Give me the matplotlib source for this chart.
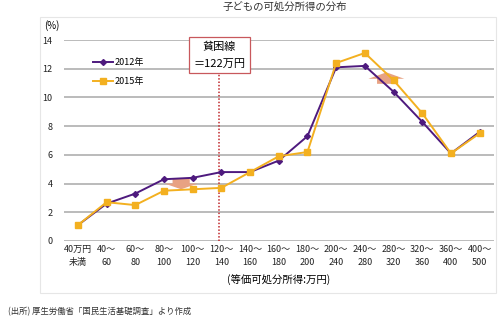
import matplotlib
matplotlib.use("Agg")
import matplotlib.pyplot as plt
import matplotlib.patches as mpatches
import numpy as np

plt.rcParams['font.family'] = ['Noto Sans CJK JP', 'DejaVu Sans']

# income brackets (equivalent disposable income, 10k yen)
brackets = ["40万円\n未満", "40～\n60", "60～\n80", "80～\n100", "100～\n120", "120～\n140",
            "140～\n160", "160～\n180", "180～\n200", "200～\n240", "240～\n280",
            "280～\n320", "320～\n360", "360～\n400", "400～\n500"]
share_2012 = [1.1, 2.6, 3.3, 4.3, 4.4, 4.8, 4.8, 5.6, 7.3, 12.1, 12.2, 10.4, 8.3, 6.1, 7.6]
share_2015 = [1.1, 2.7, 2.5, 3.5, 3.6, 3.7, 4.8, 5.9, 6.2, 12.4, 13.1, 11.2, 8.9, 6.1, 7.5]
poverty_line_pos = 4.93

c2012 = '#4E1A7E'
c2015 = '#F3B020'
arrow_c = '#E8A283'

fig = plt.figure(figsize=(5.0, 3.23), dpi=100)
fig.patches.append(mpatches.Rectangle((40 / 500, 1 - 293 / 323), 456 / 500, 276 / 323,
                                      transform=fig.transFigure, fill=False,
                                      edgecolor='#E6E6E6', linewidth=0.8))
ax = fig.add_axes([0.127, 0.254, 0.861, 0.622])

x = np.arange(len(brackets))
ax.set_yticks(np.arange(0, 15, 2))
ax.yaxis.grid(True, color='#A8A8A8', linewidth=1.1)
ax.set_axisbelow(True)
for s in ax.spines.values():
    s.set_visible(False)

ax.plot(x, share_2012, color=c2012, linewidth=1.4, marker='D', markersize=3,
        label='2012年', zorder=3)
ax.plot(x, share_2015, color=c2015, linewidth=1.4, marker='s', markersize=4.5,
        label='2015年', zorder=3)

ax.set_xlim(-0.5, len(brackets) - 0.5)
ax.set_ylim(0, 14)
ax.set_xticks(x)
ax.set_xticklabels(brackets, fontsize=6.5, linespacing=1.5)
ax.tick_params(axis='both', length=0, labelsize=6.5, colors='#222222')
ax.tick_params(axis='x', pad=3)
ax.tick_params(axis='y', pad=8)

# poverty line marker
ax.plot([poverty_line_pos, poverty_line_pos], [0, 11.7], color='#C0282C',
        linestyle=(0, (1, 1.2)), linewidth=1.1, zorder=2)
ax.text(poverty_line_pos, 12.95, '貧困線\n＝122万円', ha='center', va='center',
        fontsize=8, linespacing=1.8, zorder=4,
        bbox=dict(boxstyle='square,pad=0.4', facecolor='white',
                  edgecolor='#C8585C', linewidth=0.9))

# shift arrows
ax.add_patch(mpatches.FancyArrow(3.6, 4.35, 0, -0.75, width=0.6, head_width=1.15,
                                 head_length=0.4, length_includes_head=True,
                                 color=arrow_c, linewidth=0, zorder=2.5))
ax.add_patch(mpatches.FancyArrow(10.75, 10.95, 0, 0.8, width=0.65, head_width=1.25,
                                 head_length=0.45, length_includes_head=True,
                                 color=arrow_c, linewidth=0, zorder=2.5))

leg = ax.legend(loc='upper left', bbox_to_anchor=(0.05, 0.95), frameon=False,
                fontsize=6.5, handlelength=2.2, labelspacing=1.1, handletextpad=0.2)

ax.set_xlabel('(等価可処分所得:万円)', fontsize=7.5, labelpad=5)
fig.text(52 / 500, 1 - 26 / 323, '(%)', fontsize=7, ha='center', va='center')
fig.text(285 / 500, 1 - 8 / 323, '子どもの可処分所得の分布', fontsize=7.5,
         ha='center', va='center', color='#333333')
fig.text(8 / 500, 1 - 312 / 323, '(出所) 厚生労働省「国民生活基礎調査」より作成',
         fontsize=6, ha='left', va='center', color='#333333')

fig.savefig('out.png', dpi=100)
